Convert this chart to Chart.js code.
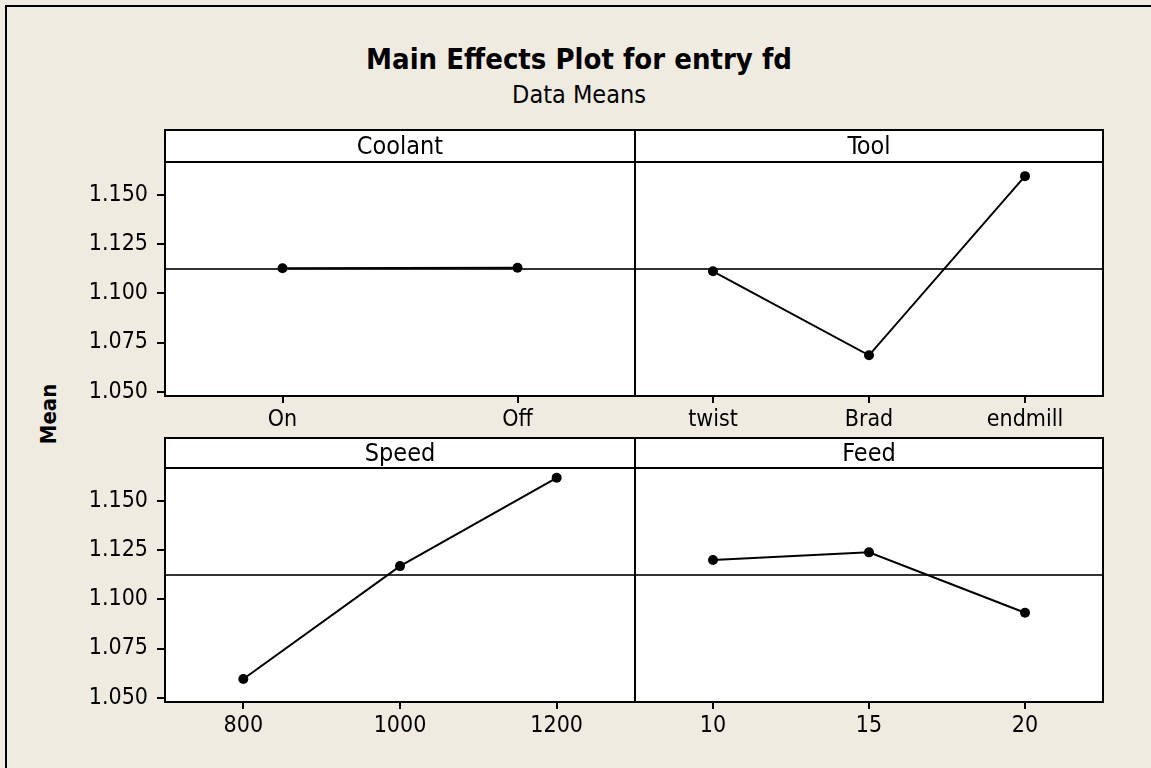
<!DOCTYPE html>
<html lang="en">
  <head>
    <meta charset="UTF-8" />
    <title>Main Effects Plot for entry fd</title>
    <script src="https://cdn.jsdelivr.net/npm/chart.js"></script>
    <style>
      html, body { margin: 0; padding: 0; }
      body {
        width: 1151px; height: 768px; position: relative; overflow: hidden;
        background: #efebe1;
        font-family: "DejaVu Sans Condensed", "DejaVu Sans", sans-serif;
        color: #000;
      }
      .frame {
        position: absolute; left: 5px; top: 5px; width: 1200px; height: 800px;
        border-left: 2px solid #000; border-top: 2px solid #000;
      }
      .title {
        position: absolute; left: 0; width: 1158px; text-align: center; line-height: 1;
      }
      #mainTitle { top: 45px; font-size: 29px; font-weight: bold; }
      #subTitle { top: 82px; font-size: 25px; }
      #yTitle {
        position: absolute; left: 49px; top: 414px; line-height: 1;
        font-size: 22px; font-weight: bold;
        transform: translate(-50%, -50%) rotate(-90deg);
      }
      canvas { position: absolute; }
    </style>
  </head>
  <body>
    <div class="frame"></div>
    <div class="title" id="mainTitle">Main Effects Plot for entry fd</div>
    <div class="title" id="subTitle">Data Means</div>
    <div id="yTitle">Mean</div>

    <canvas id="coolant" width="576" height="320" style="left:60px;top:120px"></canvas>
    <canvas id="tool" width="470" height="320" style="left:634px;top:120px"></canvas>
    <canvas id="speed" width="576" height="320" style="left:60px;top:436px"></canvas>
    <canvas id="feed" width="470" height="320" style="left:634px;top:436px"></canvas>

    <script>
      // factor levels and their data means
      const coolantLevels = ["On", "Off"];
      const coolantMeans = [1.1128, 1.113];

      const toolLevels = ["twist", "Brad", "endmill"];
      const toolMeans = [1.1112, 1.0685, 1.1596];

      const speedLevels = ["800", "1000", "1200"];
      const speedMeans = [1.0595, 1.1169, 1.1618];

      const feedLevels = ["10", "15", "20"];
      const feedMeans = [1.12, 1.1239, 1.0932];

      const grandMean = 1.1124;
      const yTicks = [1.05, 1.075, 1.1, 1.125, 1.15];
      const yMin = 1.0478;
      const yMax = 1.1668;

      const FONT = "'DejaVu Sans Condensed', 'DejaVu Sans', sans-serif";

      // white panel, reference line, frame and strip header
      const panelPlugin = {
        id: "panel",
        beforeDraw(chart, args, opts) {
          const { ctx, chartArea: a } = chart;
          ctx.save();
          ctx.fillStyle = "#fff";
          ctx.fillRect(a.left, a.top - opts.stripHeight, a.right - a.left, a.bottom - a.top + opts.stripHeight);
          ctx.restore();
        },
        beforeDatasetsDraw(chart, args, opts) {
          const { ctx, chartArea: a } = chart;
          const py = chart.scales.y.getPixelForValue(opts.mean);
          ctx.save();
          ctx.strokeStyle = "#333";
          ctx.lineWidth = 2;
          ctx.beginPath();
          ctx.moveTo(a.left, py);
          ctx.lineTo(a.right, py);
          ctx.stroke();
          ctx.restore();
        },
        afterDraw(chart, args, opts) {
          const { ctx, chartArea: a } = chart;
          const w = a.right - a.left;
          ctx.save();
          ctx.strokeStyle = "#000";
          ctx.lineWidth = 2;
          ctx.strokeRect(a.left, a.top, w, a.bottom - a.top);
          ctx.strokeRect(a.left, a.top - opts.stripHeight, w, opts.stripHeight);
          ctx.fillStyle = "#000";
          ctx.font = "25px " + FONT;
          ctx.textAlign = "center";
          ctx.textBaseline = "middle";
          ctx.fillText(opts.label, a.left + w / 2, a.top - opts.stripHeight / 2 + 1);
          ctx.restore();
        }
      };

      function drawPanel(id, levels, means, label, showY, top, strip, xHeight) {
        const ctx = document.getElementById(id).getContext("2d");
        new Chart(ctx, {
          type: "line",
          data: {
            labels: levels,
            datasets: [
              {
                data: means,
                borderColor: "#000",
                borderWidth: 2,
                pointRadius: 5,
                pointBackgroundColor: "#000",
                pointBorderWidth: 0,
                tension: 0
              }
            ]
          },
          plugins: [panelPlugin],
          options: {
            responsive: false,
            animation: false,
            layout: { autoPadding: false, padding: { top: top, right: 1, left: showY ? 0 : 1, bottom: 0 } },
            plugins: {
              legend: { display: false },
              tooltip: { enabled: false },
              panel: { label: label, stripHeight: strip, mean: grandMean }
            },
            scales: {
              x: {
                type: "category",
                offset: true,
                grid: { offset: false, drawOnChartArea: false, tickLength: 7, color: "#000", lineWidth: 2 },
                border: { display: false },
                ticks: { color: "#000", font: { family: FONT, size: 23 }, padding: 3, maxRotation: 0, autoSkip: false },
                afterFit(s) { s.height = xHeight; }
              },
              y: {
                display: showY,
                min: yMin,
                max: yMax,
                grid: { drawOnChartArea: false, tickLength: 8, color: "#000", lineWidth: 2 },
                border: { display: false },
                afterBuildTicks(s) { s.ticks = yTicks.map((v) => ({ value: v })); },
                ticks: {
                  color: "#000",
                  font: { family: FONT, size: 23 },
                  padding: 9,
                  callback: (v) => v.toFixed(3)
                },
                afterFit(s) { if (showY) s.width = 105; }
              }
            }
          }
        });
      }

      drawPanel("coolant", coolantLevels, coolantMeans, "Coolant", true, 42, 32, 44);
      drawPanel("tool", toolLevels, toolMeans, "Tool", false, 42, 32, 44);
      drawPanel("speed", speedLevels, speedMeans, "Speed", true, 32, 30, 54);
      drawPanel("feed", feedLevels, feedMeans, "Feed", false, 32, 30, 54);
    </script>
  </body>
</html>
